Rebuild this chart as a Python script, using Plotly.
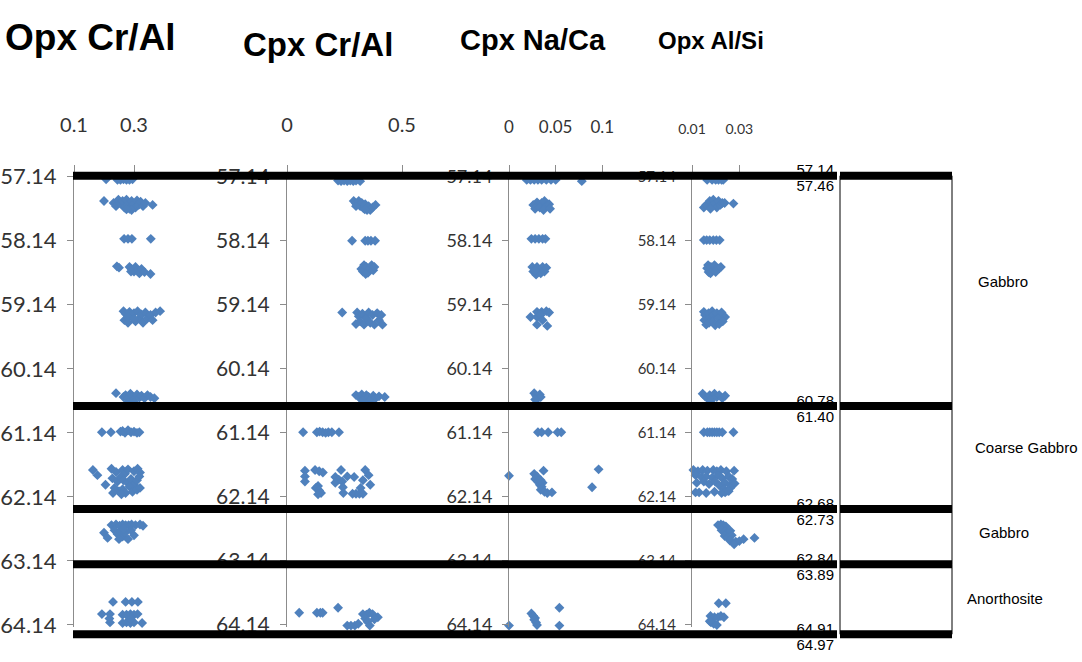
import plotly.graph_objects as go

# ---------------------------------------------------------------------------
# Mineral chemistry down-hole (depth in m) and lithology column
# ---------------------------------------------------------------------------
opx_cr_al_depth = [57.18, 57.19, 57.19, 57.18, 57.19, 57.19, 57.18,
                   57.52, 57.55, 57.60, 57.50, 57.56, 57.52, 57.62, 57.50, 57.58, 57.64, 57.52, 57.57, 57.62,
                   57.51, 57.58, 57.53, 57.60, 57.55, 57.58, 57.66, 57.65,
                   58.11, 58.11, 58.11, 58.11,
                   58.54, 58.56, 58.55, 58.58, 58.62, 58.55, 58.60, 58.65, 58.58, 58.63, 58.66, 58.62,
                   59.24, 59.28, 59.38, 59.42, 59.25, 59.33, 59.27, 59.40, 59.24, 59.35, 59.29, 59.42,
                   59.26, 59.35, 59.30, 59.38, 59.26, 59.24, 59.33, 59.36,
                   60.52, 60.58, 60.55, 60.60, 60.53, 60.57, 60.61, 60.54, 60.59, 60.56, 60.60, 60.55,
                   60.58, 60.60, 60.66, 60.66,
                   61.13, 61.13, 61.12, 61.11, 61.14, 61.10, 61.13, 61.12, 61.14, 61.13,
                   61.72, 61.80, 61.95, 61.70, 61.75, 61.72, 61.78, 61.71, 61.74, 61.70, 61.76, 61.85,
                   61.90, 61.83, 61.88, 61.92, 61.86, 61.95, 61.88, 61.82, 62.00, 62.05, 62.02, 62.08,
                   61.98, 62.06, 62.03, 62.08, 62.10, 62.00,
                   62.58, 62.57, 62.59, 62.57, 62.58, 62.58, 62.57, 62.58, 62.59, 62.57, 62.70, 62.78,
                   62.66, 62.72, 62.68, 62.76, 62.70, 62.80, 62.66, 62.74, 62.80, 62.64,
                   63.78, 63.78, 63.78, 63.78, 63.97, 63.97, 63.98, 63.98, 63.97, 63.98, 63.97,
                   64.10, 64.11, 64.10, 64.11, 64.10, 64.11, 64.04, 64.05]
opx_cr_al = [0.207, 0.245, 0.255, 0.265, 0.275, 0.285, 0.295,
             0.200, 0.232, 0.240, 0.248, 0.255, 0.262, 0.268, 0.275, 0.280, 0.285, 0.292, 0.298, 0.305,
             0.310, 0.316, 0.322, 0.330, 0.338, 0.362, 0.292, 0.275,
             0.267, 0.280, 0.293, 0.356,
             0.243, 0.250, 0.285, 0.292, 0.300, 0.305, 0.312, 0.318, 0.325, 0.335, 0.355, 0.290,
             0.265, 0.272, 0.268, 0.280, 0.285, 0.292, 0.300, 0.305, 0.312, 0.318, 0.325, 0.330,
             0.338, 0.345, 0.355, 0.362, 0.372, 0.387, 0.280, 0.300,
             0.240, 0.265, 0.272, 0.280, 0.288, 0.295, 0.302, 0.310, 0.318, 0.325, 0.335, 0.345,
             0.355, 0.368, 0.280, 0.300,
             0.193, 0.223, 0.255, 0.262, 0.270, 0.280, 0.290, 0.300, 0.310, 0.318,
             0.163, 0.178, 0.205, 0.225, 0.240, 0.262, 0.270, 0.280, 0.300, 0.312, 0.320, 0.228,
             0.245, 0.255, 0.265, 0.278, 0.290, 0.300, 0.310, 0.318, 0.235, 0.250, 0.262, 0.272,
             0.285, 0.295, 0.310, 0.230, 0.258, 0.320,
             0.225, 0.240, 0.252, 0.262, 0.272, 0.282, 0.292, 0.305, 0.330, 0.320, 0.200, 0.212,
             0.235, 0.245, 0.255, 0.262, 0.270, 0.280, 0.290, 0.300, 0.250, 0.265,
             0.230, 0.272, 0.293, 0.313, 0.193, 0.220, 0.262, 0.275, 0.288, 0.300, 0.312,
             0.220, 0.262, 0.275, 0.288, 0.300, 0.327, 0.218, 0.288]

cpx_cr_al_depth = [57.20, 57.21, 57.20, 57.21, 57.20, 57.21, 57.20, 57.21,
                   57.52, 57.56, 57.52, 57.60, 57.55, 57.63, 57.57, 57.66, 57.60, 57.66, 57.62, 57.58,
                   57.65, 57.60,
                   58.14, 58.14, 58.14, 58.14, 58.14,
                   58.52, 58.58, 58.62, 58.55, 58.64, 58.58, 58.52, 58.60, 58.66, 58.55,
                   59.26, 59.26, 59.32, 59.40, 59.28, 59.45, 59.35, 59.26, 59.42, 59.30, 59.45, 59.27,
                   59.38, 59.45, 59.30, 59.44,
                   60.55, 60.58, 60.54, 60.60, 60.55, 60.58, 60.62, 60.56, 60.60, 60.57, 60.58, 60.64,
                   60.64,
                   61.13, 61.13, 61.12, 61.13, 61.14, 61.13, 61.13, 61.13,
                   61.73, 61.82, 61.90, 61.72, 61.74, 61.76, 61.72, 61.72, 61.83, 61.87, 61.82, 61.83,
                   61.88, 61.92, 61.90, 61.97, 62.00, 62.04, 61.99, 62.00, 62.08, 62.10, 62.08, 62.09,
                   62.09, 62.09, 62.09, 61.95, 61.80,
                   63.87, 63.95, 63.95, 63.95, 63.95, 63.97, 63.98, 63.95, 63.97, 64.02, 64.04, 64.05,
                   64.09, 64.15, 64.15, 64.15, 64.12, 64.15]
cpx_cr_al = [0.222, 0.235, 0.248, 0.262, 0.275, 0.288, 0.300, 0.318,
             0.290, 0.300, 0.312, 0.318, 0.325, 0.332, 0.340, 0.348, 0.355, 0.362, 0.372, 0.385,
             0.338, 0.300,
             0.283, 0.340, 0.352, 0.365, 0.383,
             0.335, 0.323, 0.330, 0.345, 0.352, 0.358, 0.368, 0.375, 0.342, 0.380,
             0.240, 0.305, 0.312, 0.318, 0.328, 0.335, 0.345, 0.355, 0.362, 0.372, 0.380, 0.392,
             0.400, 0.415, 0.410, 0.300,
             0.300, 0.312, 0.325, 0.335, 0.345, 0.355, 0.365, 0.375, 0.385, 0.400, 0.425, 0.330,
             0.360,
             0.070, 0.130, 0.142, 0.155, 0.168, 0.180, 0.195, 0.226,
             0.078, 0.078, 0.078, 0.122, 0.140, 0.156, 0.235, 0.340, 0.210, 0.225, 0.262, 0.292,
             0.330, 0.210, 0.240, 0.135, 0.125, 0.140, 0.243, 0.320, 0.148, 0.135, 0.245, 0.285,
             0.300, 0.315, 0.330, 0.362, 0.355,
             0.222, 0.053, 0.130, 0.145, 0.155, 0.330, 0.345, 0.358, 0.372, 0.395, 0.340, 0.380,
             0.350, 0.262, 0.278, 0.295, 0.310, 0.360]

cpx_na_ca_depth = [57.19, 57.19, 57.19, 57.19, 57.19, 57.19, 57.19, 57.19, 57.21,
                   57.54, 57.58, 57.64, 57.55, 57.62, 57.52, 57.60, 57.66, 57.57, 57.64,
                   58.11, 58.11, 58.11, 58.11, 58.11,
                   58.55, 58.62, 58.67, 58.55, 58.60, 58.65, 58.55, 58.62, 58.56, 58.60,
                   59.25, 59.25, 59.24, 59.26, 59.33, 59.33, 59.30, 59.38, 59.45, 59.47,
                   60.52, 60.56, 60.60, 60.54, 60.58, 60.62,
                   61.13, 61.13, 61.13, 61.13, 61.13,
                   61.73, 61.71, 61.81, 61.78, 61.82, 61.86, 61.90, 61.95, 61.92, 61.98, 62.03, 62.06,
                   62.08, 62.07, 61.99, 61.88,
                   63.87, 63.96, 64.00, 64.03, 64.06, 64.10, 64.15, 64.15, 64.14]
cpx_na_ca = [0.019, 0.023, 0.027, 0.031, 0.035, 0.040, 0.045, 0.050, 0.078,
             0.030, 0.026, 0.028, 0.035, 0.033, 0.038, 0.040, 0.037, 0.043, 0.044,
             0.024, 0.028, 0.032, 0.036, 0.039,
             0.025, 0.026, 0.029, 0.030, 0.032, 0.034, 0.036, 0.038, 0.040, 0.028,
             0.030, 0.035, 0.040, 0.043, 0.023, 0.030, 0.034, 0.036, 0.030, 0.041,
             0.027, 0.029, 0.031, 0.033, 0.034, 0.028,
             0.031, 0.035, 0.042, 0.052, 0.056,
             0.037, 0.096, 0.000, 0.027, 0.030, 0.028, 0.031, 0.033, 0.036, 0.035, 0.034, 0.038,
             0.041, 0.046, 0.089, 0.034,
             0.054, 0.024, 0.026, 0.028, 0.027, 0.029, 0.000, 0.054, 0.030]

opx_al_si_depth = [57.19, 57.19, 57.19, 57.19, 57.19, 57.19,
                   57.62, 57.58, 57.52, 57.60, 57.50, 57.56, 57.62, 57.52, 57.58, 57.55, 57.55, 57.56,
                   57.64,
                   58.13, 58.13, 58.13, 58.13, 58.13, 58.13,
                   58.52, 58.57, 58.63, 58.55, 58.60, 58.65, 58.52, 58.58, 58.63, 58.57, 58.55,
                   59.25, 59.30, 59.38, 59.45, 59.27, 59.34, 59.42, 59.24, 59.30, 59.40, 59.46, 59.27,
                   59.35, 59.44, 59.26, 59.33, 59.40,
                   60.53, 60.57, 60.60, 60.55, 60.59, 60.53, 60.58, 60.55, 60.60, 60.56, 60.64,
                   61.13, 61.13, 61.13, 61.13, 61.13, 61.13, 61.13, 61.13, 61.13,
                   61.72, 61.74, 61.72, 61.73, 61.72, 61.74, 61.72, 61.74, 61.73, 61.80, 61.83, 61.82,
                   61.84, 61.80, 61.85, 61.82, 61.86, 61.92, 61.90, 61.94, 61.90, 61.96, 61.92, 61.95,
                   61.93, 62.02, 62.04, 62.00, 62.07, 62.07, 62.08, 62.06, 62.08, 62.07, 62.05,
                   62.58, 62.57, 62.58, 62.60, 62.66, 62.68, 62.70, 62.67, 62.75, 62.77, 62.74, 62.82,
                   62.85, 62.84, 62.83, 62.80, 62.78, 62.88,
                   63.80, 63.80, 64.00, 64.02, 64.02, 64.00, 64.02, 64.10, 64.12, 64.14, 64.08]
opx_al_si = [0.0164, 0.0185, 0.0200, 0.0212, 0.0225, 0.0232,
             0.0150, 0.0160, 0.0175, 0.0182, 0.0190, 0.0198, 0.0205, 0.0212, 0.0220, 0.0228, 0.0238, 0.0275,
             0.0178,
             0.0150, 0.0162, 0.0175, 0.0190, 0.0203, 0.0217,
             0.0168, 0.0164, 0.0170, 0.0180, 0.0188, 0.0178, 0.0195, 0.0205, 0.0200, 0.0215, 0.0222,
             0.0150, 0.0155, 0.0152, 0.0160, 0.0170, 0.0178, 0.0172, 0.0185, 0.0192, 0.0188, 0.0198, 0.0205,
             0.0212, 0.0215, 0.0225, 0.0240, 0.0230,
             0.0145, 0.0155, 0.0165, 0.0175, 0.0185, 0.0195, 0.0205, 0.0215, 0.0228, 0.0240, 0.0180,
             0.0150, 0.0165, 0.0175, 0.0185, 0.0195, 0.0205, 0.0215, 0.0228, 0.0275,
             0.0106, 0.0125, 0.0145, 0.0165, 0.0190, 0.0205, 0.0222, 0.0245, 0.0278, 0.0115, 0.0140, 0.0160,
             0.0185, 0.0210, 0.0228, 0.0255, 0.0270, 0.0120, 0.0150, 0.0172, 0.0198, 0.0215, 0.0240, 0.0262,
             0.0280, 0.0235, 0.0250, 0.0262, 0.0115, 0.0130, 0.0160, 0.0195, 0.0225, 0.0240, 0.0255,
             0.0210, 0.0222, 0.0232, 0.0243, 0.0225, 0.0238, 0.0250, 0.0262, 0.0238, 0.0252, 0.0268, 0.0260,
             0.0272, 0.0285, 0.0300, 0.0318, 0.0364, 0.0278,
             0.0213, 0.0243, 0.0178, 0.0195, 0.0210, 0.0222, 0.0235, 0.0180, 0.0192, 0.0205, 0.0175]

panel_titles = ["Opx Cr/Al", "Cpx Cr/Al", "Cpx Na/Ca", "Opx Al/Si"]
panel_ranges = [[0.1, 0.42], [0, 0.6], [0, 0.12], [0.01, 0.04]]
panel_ticks = [[0.1, 0.3], [0, 0.5], [0, 0.05, 0.1], [0.01, 0.03]]
depth_ticks = [57.14, 58.14, 59.14, 60.14, 61.14, 62.14, 63.14, 64.14]
depth_range = [64.17, 57.14]

# Lithology column: unit boundaries as placed along the depth axis, with the
# logged depths printed above (base of unit) and below (top of next unit)
unit_breaks = [57.125, 60.72, 62.33, 63.19, 64.285]
break_labels_above = ["57.14", "60.78", "62.68", "62.84", "64.91"]
break_labels_below = ["57.46", "61.40", "62.73", "63.89", "64.97"]
unit_names = ["Gabbro", "Coarse Gabbro", "Gabbro", "Anorthosite"]

# ---------------------------------------------------------------------------
W, H = 1082, 662


def fx(p):
    return p / W


def fy(p):
    return 1 - p / H


LABEL_FONT = "Lato, Liberation Sans, Arial, sans-serif"
TITLE_FONT = "Liberation Sans, Arial, sans-serif"
ARIAL = "Liberation Sans, Arial, sans-serif"
BLUE = "#4F81BD"
AXIS_GREY = "#8c8c8c"

x_domains = [[74, 170], [287, 425], [509, 621], [692, 763]]
ytick_sizes = [22, 21, 18, 15]
xtick_sizes = [20, 20, 17, 14]
plot_top, plot_bottom = 176.7, 626.9

series = [(opx_cr_al, opx_cr_al_depth), (cpx_cr_al, cpx_cr_al_depth),
          (cpx_na_ca, cpx_na_ca_depth), (opx_al_si, opx_al_si_depth)]

fig = go.Figure()
layout = dict(
    width=W, height=H,
    margin=dict(l=0, r=0, t=0, b=0, autoexpand=False),
    paper_bgcolor="white", plot_bgcolor="rgba(0,0,0,0)",
    showlegend=False,
)

for i, (vals, depth) in enumerate(series):
    n = "" if i == 0 else str(i + 1)
    fig.add_trace(go.Scatter(
        x=vals, y=depth, mode="markers",
        xaxis="x" + n, yaxis="y" + n,
        marker=dict(symbol="diamond", size=7.6, color=BLUE, line=dict(width=0)),
        cliponaxis=False, hoverinfo="skip",
    ))
    layout["xaxis" + n] = dict(
        domain=[fx(x_domains[i][0]), fx(x_domains[i][1])],
        range=panel_ranges[i], side="top", anchor="y" + n,
        tickvals=panel_ticks[i], ticktext=[f"{t:g}" for t in panel_ticks[i]],
        ticks="outside", ticklen=11, tickcolor=AXIS_GREY, tickwidth=1,
        showline=True, linecolor=AXIS_GREY, linewidth=1,
        showgrid=False, zeroline=False, automargin=False,
        tickfont=dict(family=LABEL_FONT, size=xtick_sizes[i], color="#333333"),
        ticklabelstandoff=25,
    )
    layout["yaxis" + n] = dict(
        domain=[fy(plot_bottom), fy(plot_top)],
        range=depth_range, anchor="x" + n,
        tickvals=depth_ticks, ticktext=[f"{t:.2f}" for t in depth_ticks],
        ticks="outside", ticklen=6, tickcolor=AXIS_GREY, tickwidth=1,
        showline=True, linecolor=AXIS_GREY, linewidth=1,
        showgrid=False, zeroline=False, automargin=False,
        tickfont=dict(family=LABEL_FONT, size=ytick_sizes[i], color="#333333"),
        ticklabelstandoff=6,
    )

# Overlay depth axis for the lithology column: same metres-per-pixel as the
# data panels but extended over the lower part of the page
per_px = (depth_range[0] - depth_range[1]) / (plot_bottom - plot_top)
col_top_px, col_bottom_px = 150, H
col_range = [depth_range[1] + (col_bottom_px - plot_top) * per_px,
             depth_range[1] - (plot_top - col_top_px) * per_px]
layout["xaxis5"] = dict(domain=[fx(775), fx(834)], range=[0, 1], anchor="y5",
                        visible=False, fixedrange=True)
layout["yaxis5"] = dict(domain=[fy(col_bottom_px), fy(col_top_px)], range=col_range,
                        anchor="x5", visible=False, fixedrange=True)

# depth labels beside the lithology column (drawn under the boundary lines);
# the upper label sits just above each boundary, the lower one just below it
above_px, below_px = -4, 12
for labels, off in [(break_labels_above, above_px), (break_labels_below, below_px)]:
    fig.add_trace(go.Scatter(
        x=[1] * len(unit_breaks), y=[b + off * per_px for b in unit_breaks],
        xaxis="x5", yaxis="y5",
        mode="text", text=labels, textposition="middle left",
        textfont=dict(family=ARIAL, size=15, color="black"),
        cliponaxis=False, hoverinfo="skip",
    ))

shapes = []
# lithology boxes
for top, base in zip(unit_breaks[:-1], unit_breaks[1:]):
    shapes.append(dict(type="rect", xref="paper", yref="y5", layer="above",
                       x0=fx(840), x1=fx(952), y0=top, y1=base,
                       line=dict(color="black", width=1)))
# thick unit boundaries across all panels and the column
for b in unit_breaks:
    shapes.append(dict(type="line", xref="paper", yref="y5", layer="above",
                       x0=fx(73), x1=fx(837), y0=b, y1=b,
                       line=dict(color="black", width=8)))
    shapes.append(dict(type="line", xref="paper", yref="y5", layer="above",
                       x0=fx(840), x1=fx(952), y0=b, y1=b,
                       line=dict(color="black", width=8)))
layout["shapes"] = shapes

annotations = []
title_pos = [(90, 38, 37), (318, 44, 33), (533, 40, 29), (711, 40, 24)]
for title, (cx, cy, size) in zip(panel_titles, title_pos):
    annotations.append(dict(text=f"<b>{title}</b>", x=fx(cx), y=fy(cy), xref="paper", yref="paper",
                            showarrow=False, xanchor="center", yanchor="middle",
                            font=dict(family=TITLE_FONT, size=size, color="black")))
name_x = [1003, 1026, 1004, 1005]
name_shift = [9, 10, 4, 1]
for name, cx, dy, top, base in zip(unit_names, name_x, name_shift, unit_breaks[:-1], unit_breaks[1:]):
    annotations.append(dict(text=name, x=fx(cx), y=(top + base) / 2, xref="paper", yref="y5",
                            showarrow=False, xanchor="center", yanchor="middle", yshift=dy,
                            font=dict(family=ARIAL, size=15, color="black")))
layout["annotations"] = annotations

fig.update_layout(**layout)
fig.write_html("out.html")
